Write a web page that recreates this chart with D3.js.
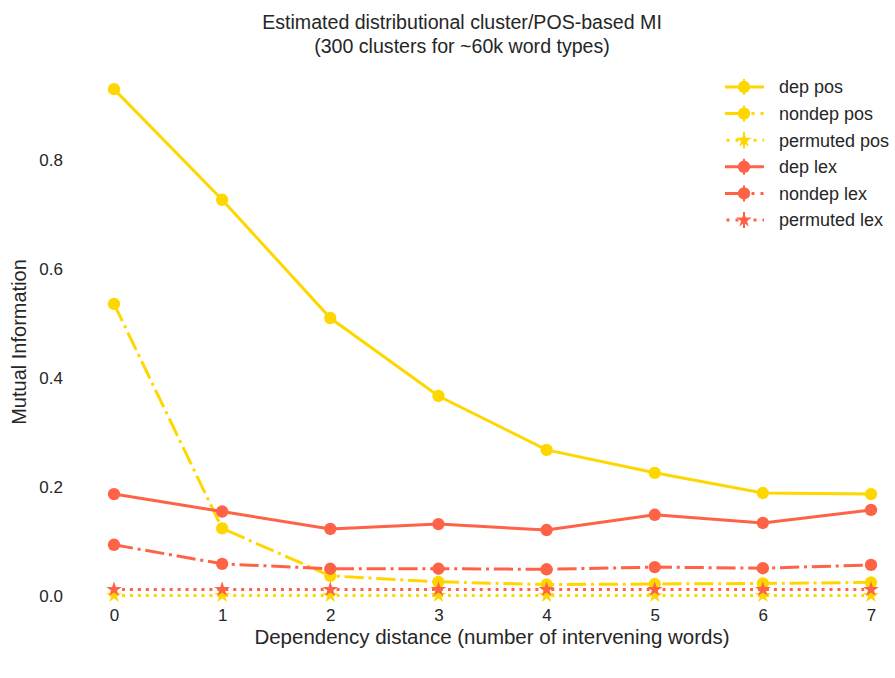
<!DOCTYPE html>
<html>
<head>
<meta charset="utf-8">
<script src="https://cdn.jsdelivr.net/npm/d3@7"></script>
<style>
  body { margin: 0; background: #fff; }
  text { font-family: "Liberation Sans", Arial, sans-serif; fill: #262626; }
</style>
</head>
<body>
<div id="container"></div>
<script>
let w = 895;
let h = 678;

// data
let distances = [0, 1, 2, 3, 4, 5, 6, 7];
let depPos = [0.930, 0.727, 0.510, 0.367, 0.268, 0.226, 0.189, 0.187];
let nondepPos = [0.536, 0.124, 0.037, 0.026, 0.021, 0.022, 0.023, 0.025];
let permutedPos = [0.001, 0.001, 0.001, 0.001, 0.001, 0.001, 0.001, 0.001];
let depLex = [0.187, 0.155, 0.123, 0.132, 0.121, 0.149, 0.134, 0.158];
let nondepLex = [0.094, 0.059, 0.050, 0.050, 0.049, 0.053, 0.051, 0.057];
let permutedLex = [0.012, 0.012, 0.012, 0.012, 0.012, 0.012, 0.012, 0.012];
let yTicks = [0.0, 0.2, 0.4, 0.6, 0.8];

let gold = "#FFD700";
let tomato = "#FF6347";

let series = [
  {name: "dep pos", values: depPos, color: gold, dash: null, legDash: null, marker: "circle"},
  {name: "nondep pos", values: nondepPos, color: gold, dash: "19.2,4.8,3,4.8", legDash: "21,5.5,3,6,3,10", marker: "circle"},
  {name: "permuted pos", values: permutedPos, color: gold, dash: "3,4.95", legDash: "3,6", marker: "star"},
  {name: "dep lex", values: depLex, color: tomato, dash: null, legDash: null, marker: "circle"},
  {name: "nondep lex", values: nondepLex, color: tomato, dash: "19.2,4.8,3,4.8", legDash: "21,5.5,3,6,3,10", marker: "circle"},
  {name: "permuted lex", values: permutedLex, color: tomato, dash: "3,4.95", legDash: "3,6", marker: "star"}
];

let viz = d3.select("#container")
  .append("svg")
    .attr("width", w)
    .attr("height", h);

let x = d3.scaleLinear().domain([0, 7]).range([114, 871]);
let y = d3.scaleLinear().domain([0, 0.8]).range([596, 160]);

let star = d3.symbol().type(d3.symbolStar).size(75);
let circle = d3.symbol().type(d3.symbolCircle).size(120);

// axes (no spines, seaborn white)
let xAxis = viz.append("g")
  .attr("transform", "translate(0,609)")
  .call(d3.axisBottom(x).tickValues(distances).tickSize(0).tickPadding(0).tickFormat(d3.format("d")));
xAxis.select(".domain").remove();
xAxis.selectAll("text").style("font-size", "17px").attr("dy", "0.71em");

let yAxis = viz.append("g")
  .attr("transform", "translate(63,0)")
  .call(d3.axisLeft(y).tickValues(yTicks).tickSize(0).tickPadding(0).tickFormat(d3.format(".1f")));
yAxis.select(".domain").remove();
yAxis.selectAll("text").style("font-size", "17px");

let line = d3.line()
  .x(function(d, i){ return x(distances[i]); })
  .y(function(d){ return y(d); });

series.forEach(function(s){
  let g = viz.append("g").attr("class", "series");
  g.append("path")
    .attr("d", line(s.values))
    .attr("fill", "none")
    .attr("stroke", s.color)
    .attr("stroke-width", 3)
    .attr("stroke-dasharray", s.dash);
  g.selectAll(".pt").data(s.values).enter()
    .append("path")
      .attr("class", "pt")
      .attr("d", s.marker == "star" ? star : circle)
      .attr("transform", function(d, i){ return "translate(" + x(distances[i]) + "," + y(d) + ")"; })
      .attr("fill", s.color);
});

// legend
let legend = viz.append("g").attr("class", "legend");
series.forEach(function(s, i){
  let ly = 87 + i * 26.6;
  let lg = legend.append("g").attr("transform", "translate(744," + ly + ")");
  lg.append("line")
    .attr("x1", s.marker == "star" ? -17.5 : -19).attr("x2", 20)
    .attr("stroke", s.color).attr("stroke-width", 3)
    .attr("stroke-dasharray", s.legDash);
  lg.append("line")
    .attr("y1", -8).attr("y2", 8)
    .attr("stroke", s.color).attr("stroke-width", 2);
  lg.append("path")
    .attr("d", s.marker == "star" ? star : circle)
    .attr("fill", s.color);
  lg.append("text")
    .attr("x", 35).attr("y", 0).attr("dy", "0.35em")
    .style("font-size", "18px")
    .text(s.name);
});

// titles
viz.append("text")
  .attr("x", 462).attr("y", 29)
  .attr("text-anchor", "middle")
  .style("font-size", "19.6px")
  .text("Estimated distributional cluster/POS-based MI");
viz.append("text")
  .attr("x", 462).attr("y", 53)
  .attr("text-anchor", "middle")
  .style("font-size", "19.6px")
  .text("(300 clusters for ~60k word types)");

viz.append("text")
  .attr("x", 492).attr("y", 644)
  .attr("text-anchor", "middle")
  .style("font-size", "20.5px")
  .text("Dependency distance (number of intervening words)");

viz.append("text")
  .attr("transform", "translate(26,342) rotate(-90)")
  .attr("text-anchor", "middle")
  .style("font-size", "20px")
  .text("Mutual Information");
</script>
</body>
</html>
